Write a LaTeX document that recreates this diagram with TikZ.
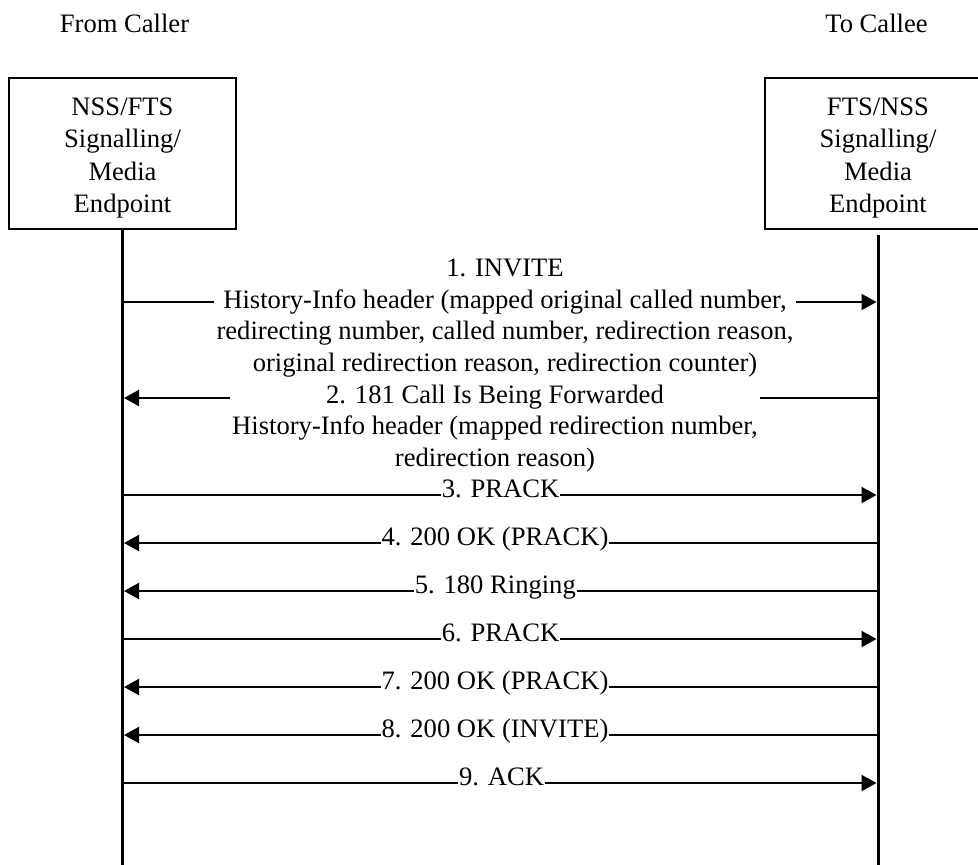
\documentclass[tikz,border=0pt]{standalone}
\usepackage{fontspec}
\setmainfont{Liberation Serif}
\usetikzlibrary{arrows.meta}
\begin{document}
\begin{tikzpicture}[x=1pt,y=-1pt,
  every node/.style={font=\fontsize{26.6}{31.6}\selectfont},
  endpoint/.style={draw, line width=2pt, minimum width=227pt, minimum height=151pt,
    align=center, inner sep=0pt, font=\fontsize{26.6}{32.4}\selectfont},
  lifeline/.style={line width=3pt},
  msgline/.style={line width=2pt},
  msgarrow/.style={line width=2pt, -{Triangle[length=15pt,width=16pt]}, shorten >=1.5pt},
  msg/.style={inner xsep=0.5pt, inner ysep=0pt, text height=0.7em, text depth=0.22em},
  msgblock/.style={align=center, inner xsep=2pt, inner ysep=0pt},
]
\useasboundingbox (0,0) rectangle (978,865);

% headings
\node (from) at (124.5,23) {From Caller};
\node (to)   at (876.5,23) {To Callee};

% endpoints (the strut lowers the text block a little inside the frame)
\node[endpoint] (L) at (122.5,153.5) {\rule{0pt}{27pt}NSS/FTS\\Signalling/\\Media\\Endpoint};
\node[endpoint] (R) at (878,153.5)   {\rule{0pt}{27pt}FTS/NSS\\Signalling/\\Media\\Endpoint};

% lifelines
\coordinate (Lend) at (122.5,865);
\coordinate (Rend) at (878,865);
\draw[lifeline] (L.south) -- (Lend);
\draw[lifeline] ([yshift=-5pt]R.south) -- (Rend);

% message anchor points on the lifelines
\foreach \i/\y in {1/302,2/398,3/495,4/543,5/591,6/639,7/687,8/735,9/783}{
  \coordinate (a\i) at (122.5,\y);
  \coordinate (b\i) at (878,\y);
}

% 1. INVITE
\node[msgblock] (m1) at (505,318) {1. INVITE\\History-Info header (mapped original called number,\\redirecting number, called number, redirection reason,\\original redirection reason, redirection counter)};
\draw[msgline] (a1) -- (m1.west |- a1);
\draw[msgarrow] (m1.east |- b1) -- (b1);

% 2. 181
\node[msgblock] (m2) at (495,428.5) {2. 181 Call Is Being Forwarded\\History-Info header (mapped redirection number,\\redirection reason)};
\draw[msgline] (b2) -- (m2.east |- b2);
\draw[msgarrow] (m2.west |- a2) -- (a2);

% 3. PRACK
\node[msg] (m3) at (500.6,495) {3. PRACK};
\draw[msgline] (a3) -- (m3.west);
\draw[msgarrow] (m3.east) -- (b3);

% 4. 200 OK (PRACK)
\node[msg] (m4) at (495,543) {4. 200 OK (PRACK)};
\draw[msgline] (b4) -- (m4.east);
\draw[msgarrow] (m4.west) -- (a4);

% 5. 180 Ringing
\node[msg] (m5) at (495.3,591) {5. 180 Ringing};
\draw[msgline] (b5) -- (m5.east);
\draw[msgarrow] (m5.west) -- (a5);

% 6. PRACK
\node[msg] (m6) at (500.6,639) {6. PRACK};
\draw[msgline] (a6) -- (m6.west);
\draw[msgarrow] (m6.east) -- (b6);

% 7. 200 OK (PRACK)
\node[msg] (m7) at (495,687) {7. 200 OK (PRACK)};
\draw[msgline] (b7) -- (m7.east);
\draw[msgarrow] (m7.west) -- (a7);

% 8. 200 OK (INVITE)
\node[msg] (m8) at (495,735) {8. 200 OK (INVITE)};
\draw[msgline] (b8) -- (m8.east);
\draw[msgarrow] (m8.west) -- (a8);

% 9. ACK
\node[msg] (m9) at (501.6,783) {9. ACK};
\draw[msgline] (a9) -- (m9.west);
\draw[msgarrow] (m9.east) -- (b9);
\end{tikzpicture}
\end{document}
